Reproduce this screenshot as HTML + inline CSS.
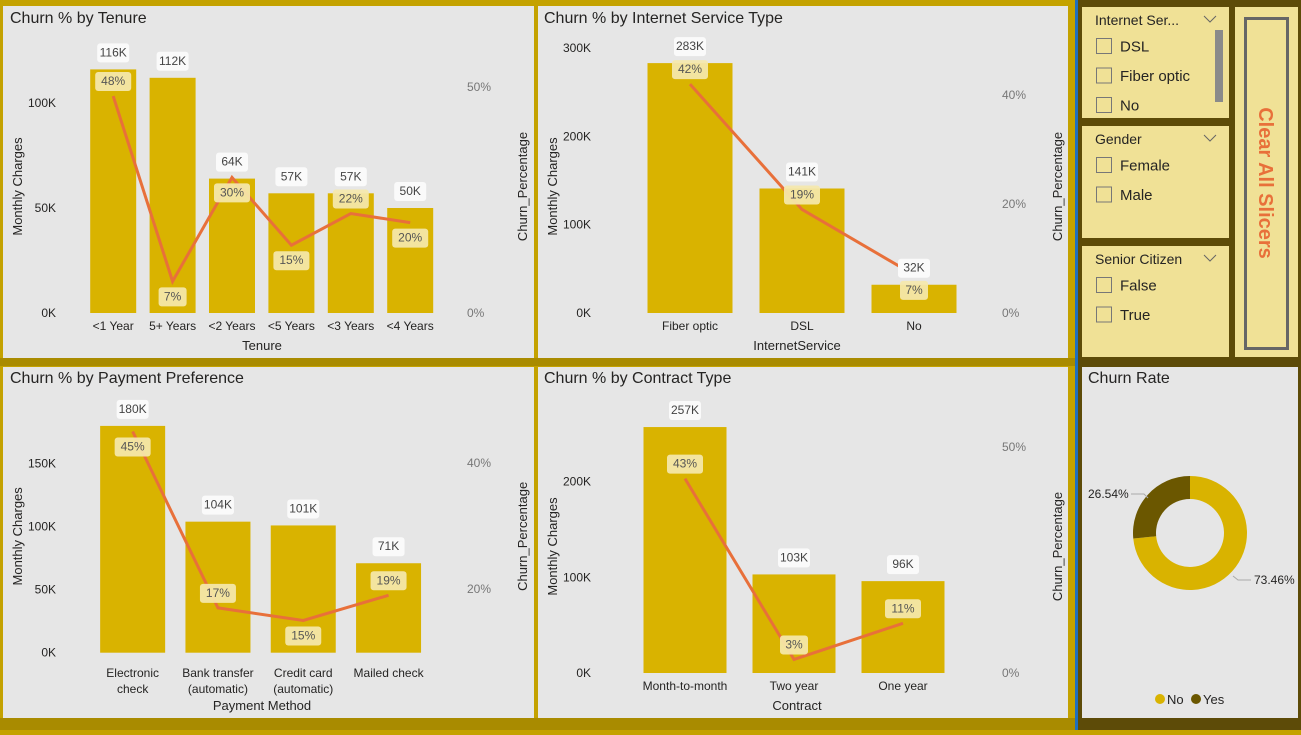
<!DOCTYPE html>
<html><head><meta charset="utf-8"><style>
body{margin:0;width:1301px;height:730px;overflow:hidden;background:#c4a200;font-family:"Liberation Sans",sans-serif}
svg text{font-family:"Liberation Sans",sans-serif}
</style></head><body>
<svg id="s" width="1301" height="730" xmlns="http://www.w3.org/2000/svg">
<rect x="0" y="0" width="1075" height="730" fill="#c4a200"/>
<rect x="1075" y="0" width="3" height="730" fill="#1f6fc0"/>
<rect x="1078" y="0" width="223" height="730" fill="#5d4b08"/>
<rect x="0" y="358" width="1075" height="8" fill="#a98b00"/>
<rect x="0" y="718" width="1075" height="12" fill="#a98b00"/>
<rect x="3" y="6" width="531" height="352" fill="#e6e6e6"/>
<rect x="538" y="6" width="530" height="352" fill="#e6e6e6"/>
<rect x="3" y="367" width="531" height="351" fill="#e6e6e6"/>
<rect x="538" y="367" width="530" height="351" fill="#e6e6e6"/>
<rect x="1082" y="367" width="216" height="351" fill="#e6e6e6"/>
<text x="10" y="23" font-size="16" fill="#252423">Churn % by Tenure</text>
<text x="544" y="23" font-size="16" fill="#252423">Churn % by Internet Service Type</text>
<text x="10" y="383" font-size="16" fill="#252423">Churn % by Payment Preference</text>
<text x="544" y="383" font-size="16" fill="#252423">Churn % by Contract Type</text>
<text x="1088" y="383" font-size="16" fill="#252423">Churn Rate</text>
<g id="slicers"></g>
<g id="charts"></g>
<g id="donut"></g>
</svg>
<script>
// Tenure
const tenureCats=["<1 Year","5+ Years","<2 Years","<5 Years","<3 Years","<4 Years"];
const tenureCharges=[116,112,64,57,57,50];
const tenurePct=[48,7,30,15,22,20];
const tenureSide=["a","b","b","b","a","b"];
const tenureLeftTicks=[0,50,100];
const tenureRightTicks=[0,50];
// Internet
const netCats=["Fiber optic","DSL","No"];
const netCharges=[283,141,32];
const netPct=[42,19,7];
const netSide=["a","a","b"];
const netLeftTicks=[0,100,200,300];
const netRightTicks=[0,20,40];
// Payment
const payCats=[["Electronic","check"],["Bank transfer","(automatic)"],["Credit card","(automatic)"],["Mailed check"]];
const payCharges=[180,104,101,71];
const payPct=[45,17,15,19];
const paySide=["b","a","b","a"];
const payLeftTicks=[0,50,100,150];
const payRightTicks=[20,40];
// Contract
const conCats=["Month-to-month","Two year","One year"];
const conCharges=[257,103,96];
const conPct=[43,3,11];
const conSide=["a","a","a"];
const conLeftTicks=[0,100,200];
const conRightTicks=[0,50];
// Donut
const donutLabels=["No","Yes"];
const donutValues=[73.46,26.54];

const NS="http://www.w3.org/2000/svg";
function el(tag,attrs,parent,txt){const e=document.createElementNS(NS,tag);for(const k in attrs)e.setAttribute(k,attrs[k]);if(txt!==undefined)e.textContent=txt;parent.appendChild(e);return e;}
const charts=document.getElementById('charts');

function combo(c){
  const g=el('g',{},charts);
  
  
  const yL=v=>c.y0-v*c.kL, yR=p=>c.r0-p*c.kR, xC=i=>c.start+c.band*(i+0.5);
  c.lt.forEach(v=>{const t=el('text',{x:c.px+56,y:yL(v)+4,'font-size':12,fill:'#252423','text-anchor':'end'},g,v+'K');
    });
  c.rt.forEach(v=>{const t=el('text',{x:c.px+467,y:yR(v)+4,'font-size':12,fill:'#777'},g,v+'%');
    });
  const mid=(c.y0+c.ytop)/2;
  let t=el('text',{x:0,y:0,'font-size':13,fill:'#252423','text-anchor':'middle',transform:`translate(${c.px+22},${mid}) rotate(-90)`},g,'Monthly Charges');
  
  t=el('text',{x:0,y:0,'font-size':13,fill:'#252423','text-anchor':'middle',transform:`translate(${c.px+527},${mid}) rotate(-90)`},g,'Churn_Percentage');
  
  c.vals.forEach((v,i)=>{const b=el('rect',{x:xC(i)-c.bw/2,y:yL(v),width:c.bw,height:c.y0-yL(v),fill:'#d9b300'},g);
    });
  const pts=c.pct.map((p,i)=>xC(i)+','+yR(p)).join(' ');
  const pl=el('polyline',{points:pts,fill:'none',stroke:'#e8703a','stroke-width':3},g);
  
  c.vals.forEach((v,i)=>{const cy=yL(v)-17,w=32;
    const r=el('rect',{x:xC(i)-w/2,y:cy-9,width:w,height:19,rx:3,fill:'#fafafa'},g);
    
    const tt=el('text',{x:xC(i),y:cy+4,'font-size':12,fill:'#444','text-anchor':'middle'},g,v+'K');
    });
  c.pct.forEach((p,i)=>{const cy=yR(p)+(c.side[i]==='a'?-15:15),w=p<10?28:36;
    const r=el('rect',{x:xC(i)-w/2,y:cy-9,width:w,height:19,rx:3,fill:'#f5e8ad','fill-opacity':0.92},g);
    
    const tt=el('text',{x:xC(i),y:cy+4,'font-size':12,fill:'#555','text-anchor':'middle'},g,p+'%');
    });
  c.cats.forEach((cat,i)=>{const lines=Array.isArray(cat)?cat:[cat];
    lines.forEach((ln,j)=>{const tt=el('text',{x:xC(i),y:c.catY+j*16,'font-size':12,fill:'#252423','text-anchor':'middle'},g,ln);
      });});
  t=el('text',{x:c.px+262,y:c.titleY,'font-size':13,fill:'#252423','text-anchor':'middle'},g,c.xtitle);
  
}
combo({name:'tenure-chart',px:0,cats:tenureCats,vals:tenureCharges,pct:tenurePct,side:tenureSide,lt:tenureLeftTicks,rt:tenureRightTicks,
  y0:313,kL:2.1,r0:313,kR:4.52,start:83.5,band:59.4,bw:46,ytop:60,catY:330,titleY:350,xtitle:'Tenure'});
combo({name:'internet-chart',px:535,cats:netCats,vals:netCharges,pct:netPct,side:netSide,lt:netLeftTicks,rt:netRightTicks,
  y0:313,kL:0.883,r0:313,kR:5.45,start:634,band:112,bw:85,ytop:60,catY:330,titleY:350,xtitle:'InternetService'});
combo({name:'payment-chart',px:0,cats:payCats,vals:payCharges,pct:payPct,side:paySide,lt:payLeftTicks,rt:payRightTicks,
  y0:652.7,kL:1.26,r0:715,kR:6.3,start:90,band:85.3,bw:65,ytop:420,catY:677,titleY:710,xtitle:'Payment Method'});
combo({name:'contract-chart',px:535,cats:conCats,vals:conCharges,pct:conPct,side:conSide,lt:conLeftTicks,rt:conRightTicks,
  y0:673,kL:0.957,r0:673,kR:4.52,start:630.5,band:109,bw:83,ytop:420,catY:690,titleY:710,xtitle:'Contract'});

// slicers
const sl=document.getElementById('slicers');
const slicerDefs=[{n:'internet-slicer',y:7,h:111,title:'Internet Ser...',items:['DSL','Fiber optic','No'],scroll:true},
 {n:'gender-slicer',y:126,h:112,title:'Gender',items:['Female','Male']},
 {n:'senior-slicer',y:246,h:111,title:'Senior Citizen',items:['False','True']}];
slicerDefs.forEach(s=>{const g=el('g',{},sl);
  
  el('rect',{x:1082,y:s.y,width:147,height:s.h,fill:'#f0e196'},g);
  el('text',{x:1095,y:s.y+18,'font-size':14,fill:'#252423'},g,s.title);
  el('polyline',{points:`${1204},${s.y+9} ${1210},${s.y+15} ${1216},${s.y+9}`,fill:'none',stroke:'#666','stroke-width':1},g);
  s.items.forEach((it,i)=>{const yy=s.y+39+i*29.5;
    const b=el('rect',{x:1096.5,y:yy-7.5,width:15,height:15,fill:'none',stroke:'#777','stroke-width':1},g);
    
    const t=el('text',{x:1120,y:yy+5.5,'font-size':15,fill:'#252423'},g,it);
    });
  if(s.scroll){const sb=el('rect',{x:1215,y:s.y+23,width:8,height:72,fill:'#8a8a8a'},g);
    }
});
const bg=el('g',{},sl);

el('rect',{x:1235,y:7,width:63,height:350,fill:'#f0e196'},bg);
el('rect',{x:1245.5,y:18.5,width:42,height:330,fill:'none',stroke:'#666','stroke-width':3},bg);
el('text',{x:0,y:0,'font-size':20,'font-weight':'bold',fill:'#e8703a','text-anchor':'middle',transform:'translate(1259,183) rotate(90)'},bg,'Clear All Slicers');

// donut
const dg=document.getElementById('donut');


const cx=1190,cy=533,R=57,r=34,total=donutValues.reduce((a,b)=>a+b,0),cols=['#d9b300','#6b5700'];
let a0=0;
donutValues.forEach((v,i)=>{const a1=a0+v/total*2*Math.PI;
  const p=(ang,rad)=>[cx+rad*Math.sin(ang),cy-rad*Math.cos(ang)];
  const [x1,y1]=p(a0,R),[x2,y2]=p(a1,R),[x3,y3]=p(a1,r),[x4,y4]=p(a0,r),lg=(a1-a0)>Math.PI?1:0;
  const path=el('path',{d:`M${x1},${y1}A${R},${R} 0 ${lg} 1 ${x2},${y2}L${x3},${y3}A${r},${r} 0 ${lg} 0 ${x4},${y4}Z`,fill:cols[i]},dg);
  
  
  a0=a1;});
el('polyline',{points:'1131,494 1144,494 1148,498',fill:'none',stroke:'#aaa'},dg);
el('text',{x:1088,y:498,'font-size':12,fill:'#252423'},dg,donutValues[1].toFixed(2)+'%');
el('polyline',{points:'1233,576 1238,580 1251,580',fill:'none',stroke:'#aaa'},dg);
el('text',{x:1254,y:584,'font-size':12,fill:'#252423'},dg,donutValues[0].toFixed(2)+'%');
donutLabels.forEach((l,i)=>{const x=1160+i*36;
  el('circle',{cx:x,cy:699,r:5,fill:cols[i]},dg);
  const t=el('text',{x:x+7,y:704,'font-size':13,fill:'#252423'},dg,l);
  });
</script>
</body></html>
